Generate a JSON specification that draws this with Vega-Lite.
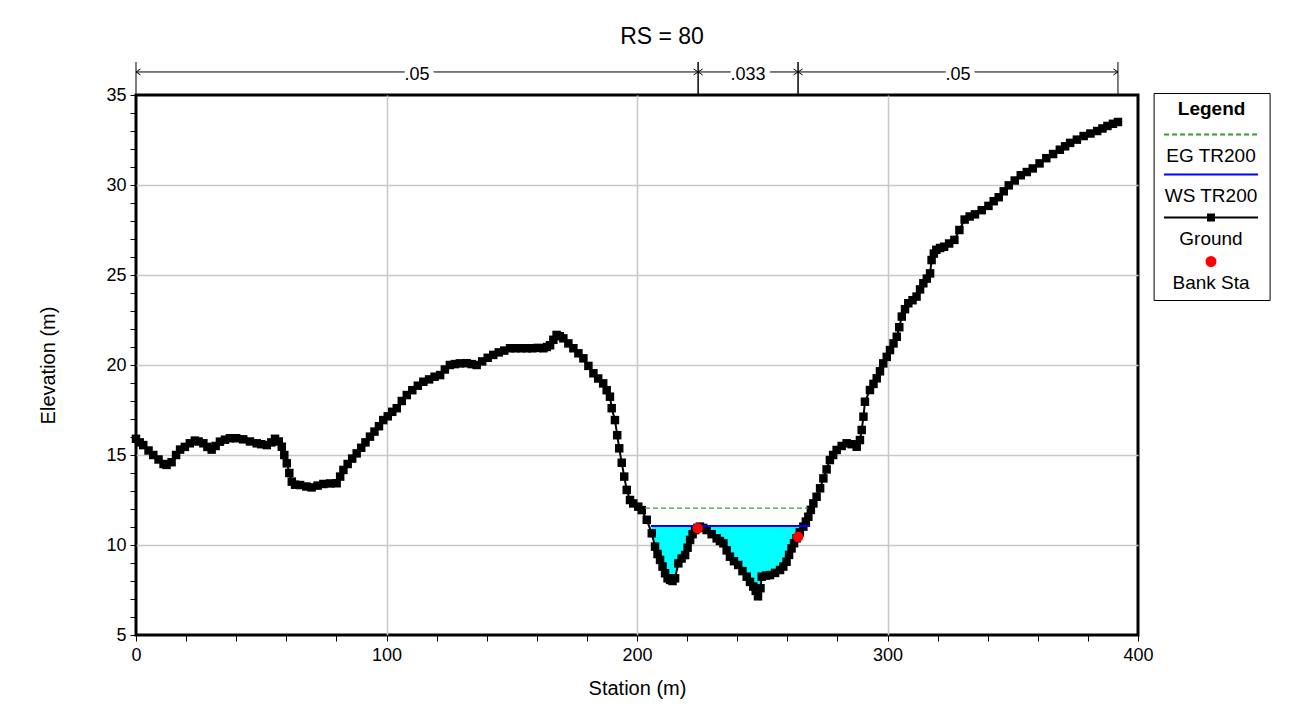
{
  "$schema": "https://vega.github.io/schema/vega-lite/v6.json",
  "width": 1002,
  "height": 540,
  "autosize": {"type": "none"},
  "padding": {"left": 136, "top": 95, "right": 158, "bottom": 77},
  "background": "white",
  "title": {"text": "RS = 80", "font": "Liberation Sans", "fontSize": 23, "fontWeight": "normal", "color": "black", "anchor": "middle", "dx": 25, "offset": 13},
  "config": {
    "font": "Liberation Sans",
    "view": {"stroke": "black", "strokeWidth": 3},
    "axis": {
      "labelFont": "Liberation Sans", "labelFontSize": 18, "labelColor": "black",
      "titleFont": "Liberation Sans", "titleFontSize": 20, "titleFontWeight": "normal", "titleColor": "black",
      "tickColor": "black", "tickWidth": 1, "tickSize": 6,
      "gridColor": "#c8c8c8", "gridWidth": 1.5,
      "domain": false, "labelOverlap": false, "labelBound": false, "labelFlush": false
    }
  },
  "datasets": {
    "ground": [
      {"station":0,"elev":15.9},{"station":1.5,"elev":15.7},{"station":2.9,"elev":15.55},{"station":5,"elev":15.25},{"station":6.9,"elev":15.0},{"station":9,"elev":14.75},{"station":11,"elev":14.5},{"station":12.2,"elev":14.45},{"station":14.2,"elev":14.6},{"station":16,"elev":15.0},{"station":17.6,"elev":15.3},{"station":19.5,"elev":15.45},{"station":21.5,"elev":15.65},{"station":23.5,"elev":15.8},{"station":25,"elev":15.75},{"station":26.9,"elev":15.65},{"station":28.5,"elev":15.45},{"station":30.2,"elev":15.3},{"station":31.8,"elev":15.5},{"station":33.5,"elev":15.74},{"station":35.5,"elev":15.85},{"station":37.5,"elev":15.93},{"station":40,"elev":15.93},{"station":42.8,"elev":15.87},{"station":45.5,"elev":15.75},{"station":48.2,"elev":15.65},{"station":50,"elev":15.6},{"station":52.2,"elev":15.55},{"station":54,"elev":15.7},{"station":55.5,"elev":15.9},{"station":57,"elev":15.75},{"station":58.2,"elev":15.46},{"station":59.2,"elev":15.0},{"station":60.2,"elev":14.54},{"station":61.2,"elev":14.0},{"station":62.2,"elev":13.52},{"station":63.5,"elev":13.35},{"station":65.5,"elev":13.33},{"station":68,"elev":13.25},{"station":70.1,"elev":13.2},{"station":72.5,"elev":13.3},{"station":74.8,"elev":13.39},{"station":77.5,"elev":13.42},{"station":80.1,"elev":13.43},{"station":81.5,"elev":13.8},{"station":82.8,"elev":14.17},{"station":84.5,"elev":14.5},{"station":86.3,"elev":14.8},{"station":88.1,"elev":15.09},{"station":89.9,"elev":15.4},{"station":91.6,"elev":15.7},{"station":93.4,"elev":16.02},{"station":95.2,"elev":16.3},{"station":97,"elev":16.6},{"station":98.7,"elev":16.94},{"station":100.5,"elev":17.15},{"station":102.3,"elev":17.4},{"station":104.1,"elev":17.6},{"station":106.1,"elev":18.0},{"station":108.1,"elev":18.33},{"station":110.3,"elev":18.6},{"station":112.5,"elev":18.85},{"station":114.7,"elev":19.07},{"station":117,"elev":19.2},{"station":119.2,"elev":19.35},{"station":121.4,"elev":19.44},{"station":123.3,"elev":19.75},{"station":125.3,"elev":20.0},{"station":127.3,"elev":20.05},{"station":129.3,"elev":20.09},{"station":132,"elev":20.1},{"station":134,"elev":20.05},{"station":136,"elev":20.0},{"station":138.2,"elev":20.2},{"station":140.4,"elev":20.4},{"station":142.6,"elev":20.56},{"station":144.8,"elev":20.7},{"station":147,"elev":20.8},{"station":149.3,"elev":20.93},{"station":151.5,"elev":20.93},{"station":153.8,"elev":20.93},{"station":156,"elev":20.93},{"station":158.2,"elev":20.93},{"station":160.4,"elev":20.95},{"station":162.6,"elev":20.93},{"station":164,"elev":21.0},{"station":165.3,"elev":21.1},{"station":166.6,"elev":21.4},{"station":167.9,"elev":21.67},{"station":169.2,"elev":21.6},{"station":170.6,"elev":21.48},{"station":172.6,"elev":21.2},{"station":174.6,"elev":20.93},{"station":176.6,"elev":20.65},{"station":178.6,"elev":20.37},{"station":180.6,"elev":19.95},{"station":182.6,"elev":19.54},{"station":184.5,"elev":19.25},{"station":186.5,"elev":18.98},{"station":187.9,"elev":18.6},{"station":189.2,"elev":18.24},{"station":189.9,"elev":17.6},{"station":191.2,"elev":16.94},{"station":192.1,"elev":16.1},{"station":192.9,"elev":15.37},{"station":193.9,"elev":14.57},{"station":194.9,"elev":13.8},{"station":195.9,"elev":13.06},{"station":197.2,"elev":12.5},{"station":198.5,"elev":12.31},{"station":200.5,"elev":12.13},{"station":201.9,"elev":11.94},{"station":203.9,"elev":11.4},{"station":205.9,"elev":10.65},{"station":207.2,"elev":9.91},{"station":208.2,"elev":9.5},{"station":209.2,"elev":9.17},{"station":210.2,"elev":8.8},{"station":211.2,"elev":8.43},{"station":212.2,"elev":8.15},{"station":213.2,"elev":8.06},{"station":214.2,"elev":8.0},{"station":215.2,"elev":8.15},{"station":216.5,"elev":8.98},{"station":217.8,"elev":9.25},{"station":219.2,"elev":9.44},{"station":220.2,"elev":9.85},{"station":221.2,"elev":10.28},{"station":222.2,"elev":10.6},{"station":223.2,"elev":10.83},{"station":224.1,"elev":10.95},{"station":225.1,"elev":11.02},{"station":226.4,"elev":10.95},{"station":227.8,"elev":10.83},{"station":229.8,"elev":10.6},{"station":231.8,"elev":10.37},{"station":233.1,"elev":10.22},{"station":234.5,"elev":10.09},{"station":235.8,"elev":9.7},{"station":237.1,"elev":9.35},{"station":238.7,"elev":9.1},{"station":240.4,"elev":8.89},{"station":242.1,"elev":8.55},{"station":243.8,"elev":8.24},{"station":245.1,"elev":7.95},{"station":246.4,"elev":7.69},{"station":247.4,"elev":7.45},{"station":248.3,"elev":7.15},{"station":249.3,"elev":7.6},{"station":249.8,"elev":8.24},{"station":251.5,"elev":8.3},{"station":253.1,"elev":8.33},{"station":255.1,"elev":8.45},{"station":257.1,"elev":8.61},{"station":258.4,"elev":8.8},{"station":259.7,"elev":9.07},{"station":260.7,"elev":9.45},{"station":261.7,"elev":9.81},{"station":262.7,"elev":10.1},{"station":263.7,"elev":10.37},{"station":265,"elev":10.7},{"station":266.4,"elev":11.02},{"station":267.4,"elev":11.3},{"station":268.4,"elev":11.57},{"station":269.4,"elev":11.95},{"station":270.4,"elev":12.31},{"station":271.7,"elev":12.68},{"station":273.1,"elev":13.15},{"station":274.4,"elev":13.7},{"station":275.7,"elev":14.2},{"station":277,"elev":14.72},{"station":278.3,"elev":15.0},{"station":279.7,"elev":15.28},{"station":281.7,"elev":15.5},{"station":283.7,"elev":15.65},{"station":285.7,"elev":15.6},{"station":287.7,"elev":15.46},{"station":289,"elev":15.83},{"station":289.7,"elev":16.39},{"station":290.4,"elev":17.13},{"station":291,"elev":17.96},{"station":293,"elev":18.61},{"station":294.4,"elev":18.95},{"station":295.7,"elev":19.26},{"station":297,"elev":19.65},{"station":298.3,"elev":20.09},{"station":299.7,"elev":20.45},{"station":301,"elev":20.83},{"station":302.4,"elev":21.2},{"station":303.7,"elev":21.57},{"station":304.7,"elev":22.1},{"station":305.7,"elev":22.69},{"station":307,"elev":23.1},{"station":308.3,"elev":23.43},{"station":310,"elev":23.6},{"station":311.6,"elev":23.8},{"station":313,"elev":24.2},{"station":314.3,"elev":24.54},{"station":315.7,"elev":24.8},{"station":317,"elev":25.09},{"station":317.6,"elev":25.83},{"station":318.5,"elev":26.19},{"station":319.5,"elev":26.4},{"station":321,"elev":26.5},{"station":322.6,"elev":26.57},{"station":324.6,"elev":26.75},{"station":326.7,"elev":26.95},{"station":328.7,"elev":27.5},{"station":330.8,"elev":28.08},{"station":332.8,"elev":28.25},{"station":334.9,"elev":28.37},{"station":337.6,"elev":28.6},{"station":340.3,"elev":28.84},{"station":342.4,"elev":29.1},{"station":344.4,"elev":29.32},{"station":346.4,"elev":29.65},{"station":348.4,"elev":29.98},{"station":350.8,"elev":30.25},{"station":353.2,"elev":30.54},{"station":355.6,"elev":30.72},{"station":358,"elev":30.92},{"station":360.7,"elev":31.2},{"station":363.4,"elev":31.49},{"station":366.1,"elev":31.72},{"station":368.8,"elev":31.96},{"station":370.9,"elev":32.15},{"station":372.9,"elev":32.34},{"station":375.6,"elev":32.52},{"station":378.3,"elev":32.72},{"station":381,"elev":32.86},{"station":383.7,"elev":33.0},{"station":385.8,"elev":33.14},{"station":387.8,"elev":33.28},{"station":390,"elev":33.4},{"station":392,"elev":33.5}
    ],
    "bank": [{"station": 224.2, "elev": 10.93}, {"station": 264.3, "elev": 10.46}],
    "ws": [{"start": 205.6, "end": 269.1, "elev": 11.05}],
    "eg": [{"start": 203.2, "end": 268.3, "elev": 12.05}],
    "nvals": [
      {"from": 0, "to": 224.4, "center": 112.2, "n": ".05"},
      {"from": 224.4, "to": 264.3, "center": 244.35, "n": ".033"},
      {"from": 264.3, "to": 392, "center": 328.15, "n": ".05"}
    ],
    "entries": [
      {"series": "EG TR200"},
      {"series": "WS TR200"},
      {"series": "Ground"},
      {"series": "Bank Sta"}
    ]
  },
  "layer": [
    {
      "data": {"name": "ground"},
      "transform": [{"filter": "datum.station >= 205 && datum.station <= 267.5 && datum.elev <= 11.05"}],
      "mark": {"type": "area", "color": "#00FFFF", "opacity": 1},
      "encoding": {
        "x": {"field": "station", "type": "quantitative", "scale": {"domain": [0, 400], "nice": false, "zero": false},
          "axis": {"title": "Station (m)", "values": [0,20,40,60,80,100,120,140,160,180,200,220,240,260,280,300,320,340,360,380,400],
            "tickCount": 60, "format": "d",
            "labelExpr": "datum.value % 100 === 0 ? datum.label : ''",
            "gridOpacity": {"condition": {"test": "datum.value % 100 !== 0 || datum.value === 0 || datum.value === 400", "value": 0}, "value": 1},
            "labelPadding": 5, "titlePadding": 14}},
        "y": {"field": "elev", "type": "quantitative", "scale": {"domain": [5, 35], "nice": false, "zero": false},
          "axis": {"title": "Elevation (m)", "values": [5,6,7,8,9,10,11,12,13,14,15,16,17,18,19,20,21,22,23,24,25,26,27,28,29,30,31,32,33,34,35],
            "tickCount": 60, "format": "d",
            "labelExpr": "datum.value % 5 === 0 ? datum.label : ''",
            "gridOpacity": {"condition": {"test": "datum.value % 5 !== 0 || datum.value === 5 || datum.value === 35", "value": 0}, "value": 1},
            "labelPadding": 4, "titlePadding": 47}},
        "y2": {"datum": 11.05}
      }
    },
    {
      "data": {"name": "ground"},
      "mark": {"type": "line", "color": "black", "strokeWidth": 2, "point": {"shape": "square", "size": 72, "filled": true, "color": "black"}},
      "encoding": {
        "x": {"field": "station", "type": "quantitative"},
        "y": {"field": "elev", "type": "quantitative"}
      }
    },
    {
      "data": {"name": "eg"},
      "mark": {"type": "rule", "color": "#339933", "strokeWidth": 1.2, "strokeDash": [5, 3]},
      "encoding": {
        "x": {"field": "start", "type": "quantitative"},
        "x2": {"field": "end"},
        "y": {"field": "elev", "type": "quantitative"}
      }
    },
    {
      "data": {"name": "ws"},
      "mark": {"type": "rule", "color": "#0000FF", "strokeWidth": 2},
      "encoding": {
        "x": {"field": "start", "type": "quantitative"},
        "x2": {"field": "end"},
        "y": {"field": "elev", "type": "quantitative"}
      }
    },
    {
      "data": {"name": "bank"},
      "mark": {"type": "point", "shape": "circle", "filled": true, "color": "#FF0000", "size": 110, "opacity": 1},
      "encoding": {
        "x": {"field": "station", "type": "quantitative"},
        "y": {"field": "elev", "type": "quantitative"}
      }
    },
    {
      "data": {"name": "nvals"},
      "layer": [
        {"mark": {"type": "rule", "color": "black", "strokeWidth": 1},
         "encoding": {"x": {"field": "from", "type": "quantitative"}, "x2": {"field": "to"}, "y": {"datum": 36.28, "type": "quantitative"}}},
        {"mark": {"type": "rule", "color": "black", "strokeWidth": 1},
         "encoding": {"x": {"field": "from", "type": "quantitative"}, "y": {"datum": 35, "type": "quantitative"}, "y2": {"datum": 36.83}}},
        {"mark": {"type": "rule", "color": "black", "strokeWidth": 1},
         "encoding": {"x": {"field": "to", "type": "quantitative"}, "y": {"datum": 35, "type": "quantitative"}, "y2": {"datum": 36.83}}},
        {"mark": {"type": "point", "shape": "M3,-2L0,0L3,2", "filled": false, "color": "black", "strokeWidth": 1, "size": 9, "opacity": 1},
         "encoding": {"x": {"field": "from", "type": "quantitative"}, "y": {"datum": 36.28, "type": "quantitative"}}},
        {"mark": {"type": "point", "shape": "M-3,-2L0,0L-3,2", "filled": false, "color": "black", "strokeWidth": 1, "size": 9, "opacity": 1},
         "encoding": {"x": {"field": "to", "type": "quantitative"}, "y": {"datum": 36.28, "type": "quantitative"}}},
        {"mark": {"type": "text", "font": "Liberation Sans", "fontSize": 18, "fill": "white", "stroke": "white", "strokeWidth": 11, "strokeJoin": "round", "baseline": "middle", "align": "center"},
         "encoding": {"x": {"field": "center", "type": "quantitative"}, "y": {"datum": 36.1, "type": "quantitative"}, "text": {"field": "n"}}},
        {"mark": {"type": "text", "font": "Liberation Sans", "fontSize": 18, "color": "black", "baseline": "middle", "align": "center"},
         "encoding": {"x": {"field": "center", "type": "quantitative"}, "y": {"datum": 36.1, "type": "quantitative"}, "text": {"field": "n"}}}
      ]
    },
    {
      "data": {"name": "entries"},
      "mark": {"type": "point", "filled": false, "opacity": 0, "strokeWidth": 2},
      "encoding": {
        "color": {"field": "series", "type": "nominal",
          "scale": {"domain": ["EG TR200", "WS TR200", "Ground", "Bank Sta"], "range": ["#339933", "#0000FF", "#000000", "#FF0000"]},
          "legend": {
            "title": "Legend", "orient": "none", "legendX": 1017.6, "legendY": -2,
            "padding": 7, "strokeColor": "black",
            "titleFont": "Liberation Sans", "titleFontSize": 19, "titleFontWeight": "bold", "titleColor": "black", "titleAnchor": "middle", "titlePadding": 27,
            "labelFont": "Liberation Sans", "labelFontSize": 19, "labelColor": "black", "labelAlign": "center", "labelOffset": 31.4,
            "rowPadding": 4,
            "symbolSize": 100, "symbolStrokeWidth": 2, "symbolOpacity": 1
          }},
        "shape": {"field": "series", "type": "nominal",
          "scale": {"domain": ["EG TR200", "WS TR200", "Ground", "Bank Sta"],
            "range": [
              "M-1.22,-4.2H-0.22M0.38,-4.2H1.38M1.98,-4.2H2.98M3.58,-4.2H4.58M5.18,-4.2H6.18M6.78,-4.2H7.78M8.38,-4.2H9.38M9.98,-4.2H10.98M11.58,-4.2H12.58M13.18,-4.2H14.18M14.78,-4.2H15.78M16.38,-4.2H17.38",
              "M-1.22,-4.2H17.58",
              "M-1.22,-4.2H17.58M7.38,-4.8H8.98M7.38,-4.4H8.98M7.38,-4.0H8.98M7.38,-3.6H8.98",
              "M8.18,-5.1A0.9,0.9 0 1,1 8.18,-3.3A0.9,0.9 0 1,1 8.18,-5.1ZM8.18,-4.7A0.5,0.5 0 1,1 8.18,-3.7A0.5,0.5 0 1,1 8.18,-4.7ZM8.18,-4.35A0.15,0.15 0 1,1 8.18,-4.05A0.15,0.15 0 1,1 8.18,-4.35Z"
            ]},
          "legend": {
            "title": "Legend", "orient": "none", "legendX": 1017.6, "legendY": -2,
            "padding": 7, "strokeColor": "black",
            "titleFont": "Liberation Sans", "titleFontSize": 19, "titleFontWeight": "bold", "titleColor": "black", "titleAnchor": "middle", "titlePadding": 27,
            "labelFont": "Liberation Sans", "labelFontSize": 19, "labelColor": "black", "labelAlign": "center", "labelOffset": 31.4,
            "rowPadding": 4,
            "symbolSize": 100, "symbolStrokeWidth": 2, "symbolOpacity": 1
          }}
      }
    }
  ]
}
